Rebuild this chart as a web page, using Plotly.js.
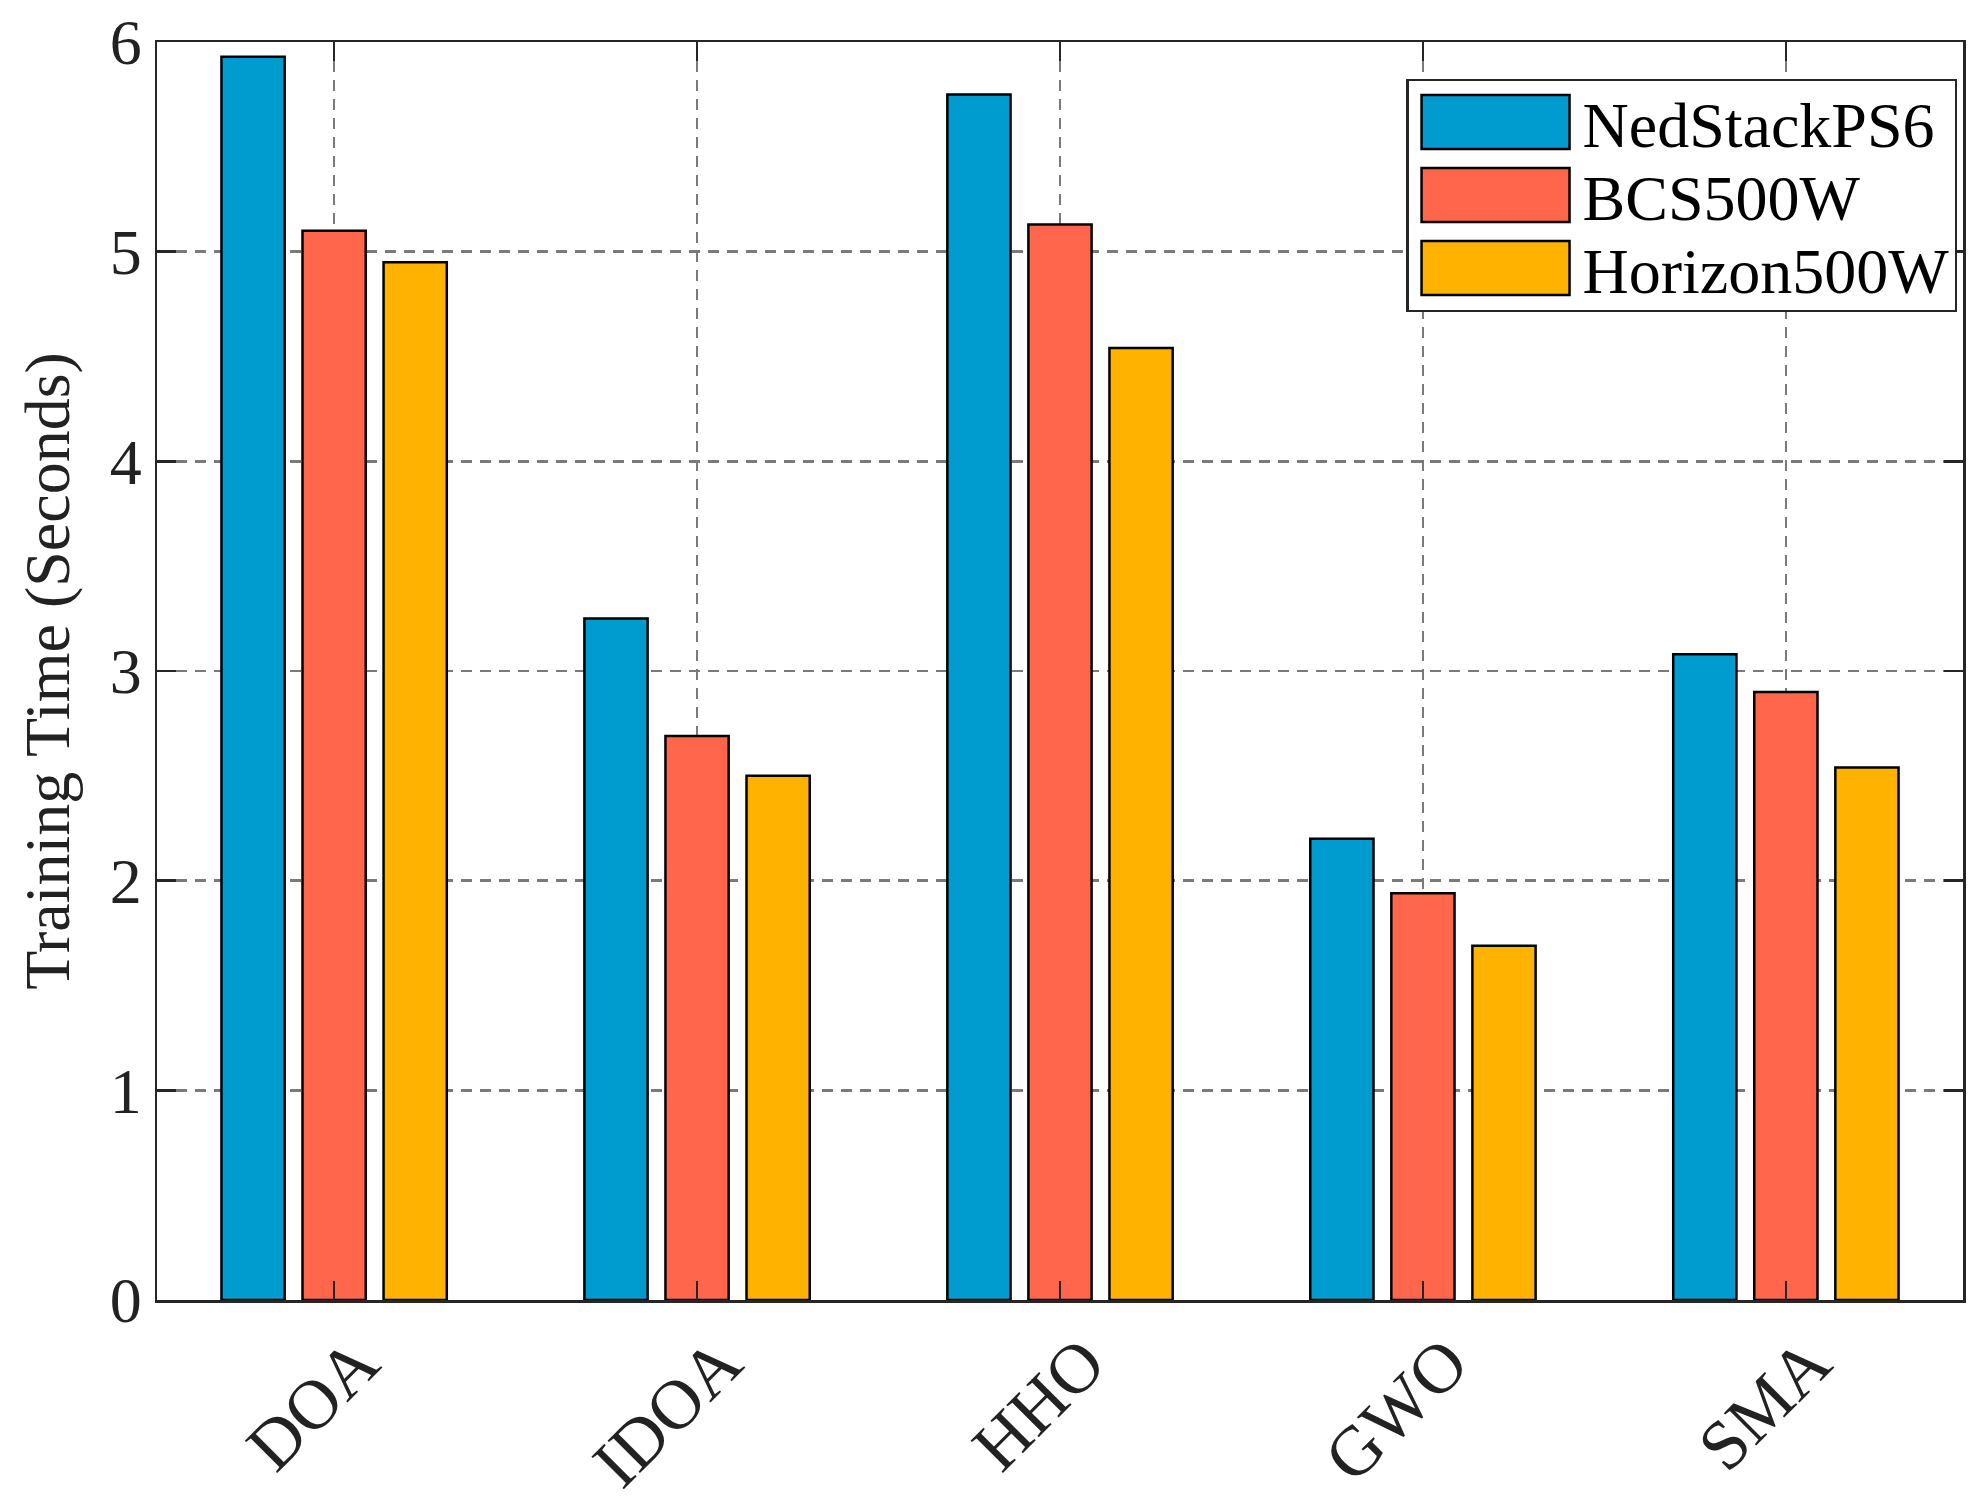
<!DOCTYPE html>
<html>
<head>
<meta charset="utf-8">
<script src="https://cdn.plot.ly/plotly-3.0.1.min.js"></script>
<style>
  html, body { margin: 0; padding: 0; background: #ffffff; }
  #chart { width: 1986px; height: 1510px; }
</style>
</head>
<body>
<div id="chart"></div>
<script>
// ---- data ----
const categories = ["DOA", "IDOA", "HHO", "GWO", "SMA"];
const seriesNames = ["NedStackPS6", "BCS500W", "Horizon500W"];
const nedStackPS6 = [5.93, 3.25, 5.75, 2.20, 3.08];
const bcs500W = [5.10, 2.69, 5.13, 1.94, 2.90];
const horizon500W = [4.95, 2.50, 4.54, 1.69, 2.54];
const seriesColors = ["#009BCF", "#FF664C", "#FFB300"];
const yTickVals = [0, 1, 2, 3, 4, 5, 6];

const seriesValues = [nedStackPS6, bcs500W, horizon500W];
const FONT = "'Liberation Serif', 'Times New Roman', serif";
const AX = "#262626";

const traces = seriesValues.map((vals, i) => ({
  type: "bar",
  name: seriesNames[i],
  x: categories,
  y: vals,
  marker: { color: seriesColors[i], line: { color: "#000000", width: 2.5 } },
  hoverinfo: "x+y+name"
}));

const axisCommon = {
  showline: true,
  linecolor: AX,
  linewidth: 2.5,
  mirror: "ticks",
  ticks: "inside",
  ticklen: 19,
  tickwidth: 2.5,
  tickcolor: AX,
  showgrid: true,
  gridcolor: "#7a7a7a",
  gridwidth: 2.5,
  griddash: "11px,8px",
  zeroline: false,
  tickfont: { family: FONT, size: 64, color: "#222222" }
};

const layout = {
  width: 1986,
  height: 1510,
  margin: { l: 157, r: 23, t: 42, b: 210, pad: 0 },
  paper_bgcolor: "#ffffff",
  plot_bgcolor: "#ffffff",
  font: { family: FONT, size: 64, color: "#222222" },
  barmode: "group",
  bargap: 0.33,
  bargroupgap: 0.22,
  showlegend: true,
  legend: {
    x: 0.9967, xanchor: "right",
    y: 0.9706, yanchor: "top",
    bgcolor: "#ffffff",
    bordercolor: AX,
    borderwidth: 2.5,
    itemwidth: 164,
    font: { family: FONT, size: 64, color: "#000000" },
    tracegroupgap: 0
  },
  xaxis: Object.assign({}, axisCommon, {
    type: "category",
    categoryorder: "array",
    categoryarray: categories,
    range: [-0.488, 4.488],
    tickangle: -45,
    tickfont: { family: FONT, size: 70, color: "#222222" },
    ticklabelshift: 24,
    ticklabelstandoff: -9
  }),
  yaxis: Object.assign({}, axisCommon, {
    range: [0, 6],
    tickvals: yTickVals,
    ticktext: yTickVals.map(String),
    title: { text: "Training Time (Seconds)", font: { family: FONT, size: 64, color: "#222222" }, standoff: 20 }
  })
};

Plotly.newPlot("chart", traces, layout, { staticPlot: true, displayModeBar: false }).then(() => {
  const leg = document.querySelector("#chart .legend");
  if (!leg) return;
  leg.querySelectorAll(".legendpoints path").forEach(p => {
    p.setAttribute("d", "M74,27H-74V-27H74Z");
  });
  // tighten legend row spacing to match the reference
  const rowTop = 43, rowStep = 73, boxH = 231;
  leg.querySelectorAll("g.traces").forEach((g, i) => {
    const m = /translate\(\s*([-\d.e]+)[ ,]+([-\d.e]+)\s*\)/.exec(g.getAttribute("transform") || "");
    const x = m ? parseFloat(m[1]) : 0;
    g.setAttribute("transform", "translate(" + x + "," + (rowTop + i * rowStep) + ")");
  });
  const bg = leg.querySelector("rect.bg");
  if (bg) bg.setAttribute("height", boxH);
});
</script>
</body>
</html>
